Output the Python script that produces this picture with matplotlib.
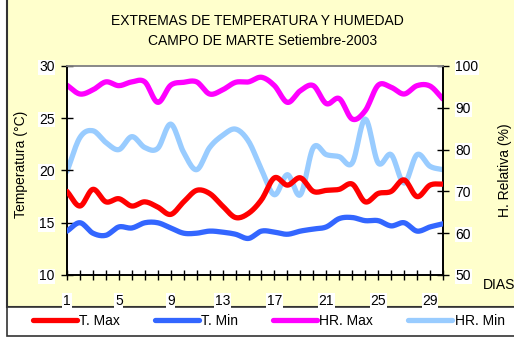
import numpy as np
import matplotlib
matplotlib.use('Agg')
import matplotlib.pyplot as plt
from matplotlib.patches import Rectangle
from matplotlib.lines import Line2D

plt.rcParams['font.family'] = ['Liberation Sans', 'DejaVu Sans']

# daily readings, Campo de Marte, September 2003
dias = list(range(1, 31))
t_max = [18.0, 16.6, 18.2, 17.0, 17.3, 16.6, 17.0, 16.5, 15.8, 17.0,
         18.1, 17.8, 16.6, 15.5, 15.9, 17.2, 19.3, 18.6, 19.3, 18.0,
         18.1, 18.2, 18.7, 17.0, 17.8, 18.0, 19.1, 17.5, 18.6, 18.7]
t_min = [14.2, 15.0, 14.0, 13.8, 14.6, 14.5, 15.0, 15.0, 14.5, 14.0,
         14.0, 14.2, 14.1, 13.9, 13.5, 14.2, 14.1, 13.9, 14.2, 14.4,
         14.6, 15.4, 15.5, 15.2, 15.2, 14.7, 15.0, 14.2, 14.6, 14.9]
hr_max = [95.4, 93.3, 94.3, 96.2, 95.3, 96.2, 96.2, 91.3, 95.4, 96.1,
          96.2, 93.3, 94.3, 96.1, 96.2, 97.3, 95.3, 91.3, 94.1, 95.3,
          91.0, 92.2, 87.3, 89.3, 95.4, 94.9, 93.3, 95.3, 95.2, 92.1]
hr_min = [74.8, 82.9, 84.5, 81.7, 80.0, 83.1, 80.5, 80.3, 86.1, 79.3,
          75.2, 80.5, 83.4, 84.9, 82.0, 75.2, 69.2, 74.0, 69.2, 80.5,
          78.8, 78.3, 76.8, 87.3, 76.8, 78.8, 72.0, 78.8, 76.0, 75.2]
x_labels = [1, 5, 9, 13, 17, 21, 25, 29]

ROJO = '#FF0000'
AZUL = '#3366FF'
MAGENTA = '#FF00FF'
CELESTE = '#99CCFF'
AMARILLO = '#FFFFCC'
FS = 10


def suavizar(x, y, n=12):
  # Catmull-Rom curve through the points, like a spreadsheet smoothed line
  x = np.asarray(x, float)
  y = np.asarray(y, float)
  px = np.concatenate([[2 * x[0] - x[1]], x, [2 * x[-1] - x[-2]]])
  py = np.concatenate([[2 * y[0] - y[1]], y, [2 * y[-1] - y[-2]]])
  xs, ys = [], []
  t = np.linspace(0, 1, n, endpoint=False)
  for i in range(1, len(px) - 2):
    for p, out in ((px, xs), (py, ys)):
      p0, p1, p2, p3 = p[i - 1], p[i], p[i + 1], p[i + 2]
      out.extend(0.5 * (2 * p1 + (-p0 + p2) * t
                        + (2 * p0 - 5 * p1 + 4 * p2 - p3) * t ** 2
                        + (-p0 + 3 * p1 - 3 * p2 + p3) * t ** 3))
  xs.append(x[-1])
  ys.append(y[-1])
  return np.array(xs), np.array(ys)


fig = plt.figure(figsize=(5.14, 3.38), dpi=100, facecolor='white')

# chart background and legend strip
fig.patches.append(Rectangle((7 / 514, 31 / 338), 1, 1, transform=fig.transFigure,
                             facecolor=AMARILLO, edgecolor='#333333', lw=1.5, zorder=-2))
fig.patches.append(Rectangle((7 / 514, 2 / 338), 1, 29 / 338, transform=fig.transFigure,
                             facecolor='white', edgecolor='#333333', lw=1.2, zorder=-1))

ax = fig.add_axes([67 / 514, 63 / 338, 376 / 514, 209 / 338])
ax2 = ax.twinx()

lw = 3.8
ax.plot(*suavizar(dias, t_max), color=ROJO, lw=lw, solid_capstyle='round', zorder=3)
ax.plot(*suavizar(dias, t_min), color=AZUL, lw=lw, solid_capstyle='round', zorder=3)
ax2.plot(*suavizar(dias, hr_max), color=MAGENTA, lw=lw, solid_capstyle='round')
ax2.plot(*suavizar(dias, hr_min), color=CELESTE, lw=lw, solid_capstyle='round')
ax.set_zorder(ax2.get_zorder() + 1)
ax.patch.set_visible(False)
ax2.patch.set_visible(True)
ax2.patch.set_facecolor('white')

ax.set_xlim(1, 30)
ax.set_ylim(10, 30)
ax2.set_ylim(50, 100)
ax.set_yticks([10, 15, 20, 25, 30])
ax2.set_yticks([50, 60, 70, 80, 90, 100])
ax.set_xticks(x_labels)
ax.set_xticks(dias, minor=True)

lbl_box = dict(facecolor='white', edgecolor='none', pad=0.5)
ax.tick_params(axis='x', which='both', direction='inout', length=7, width=1, pad=10, labelsize=FS)
ax.tick_params(axis='y', direction='inout', length=8, width=1, pad=5, labelsize=FS)
ax2.tick_params(axis='y', direction='inout', length=8, width=1, pad=5, labelsize=FS)
for t in ax.get_xticklabels() + ax.get_yticklabels() + ax2.get_yticklabels():
  t.set_bbox(lbl_box)

for a in (ax, ax2):
  a.spines['top'].set_color('#888888')
  a.spines['top'].set_linewidth(1.2)
  for s in ('left', 'right', 'bottom'):
    a.spines[s].set_linewidth(1.2)

ax.set_ylabel('Temperatura (°C)', fontsize=FS, labelpad=8, y=0.53)
ax2.set_ylabel('H. Relativa (%)', fontsize=FS, labelpad=14)
fig.text(483 / 514, 1 - 285 / 338, 'DIAS', fontsize=FS, va='center', ha='left')

fig.text(257 / 514, 1 - 21 / 338, 'EXTREMAS DE TEMPERATURA Y HUMEDAD',
         fontsize=FS, ha='center', va='center')
fig.text(263 / 514, 1 - 41 / 338, 'CAMPO DE MARTE Setiembre-2003',
         fontsize=FS, ha='center', va='center')

handles = [Line2D([], [], color=c, lw=lw, solid_capstyle='round')
           for c in (ROJO, AZUL, MAGENTA, CELESTE)]
fig.legend(handles, ['T. Max', 'T. Min', 'HR. Max', 'HR. Min'], ncol=4,
           loc='center left', bbox_to_anchor=(20 / 514, 17 / 338), frameon=False,
           fontsize=FS, handlelength=3.2, handletextpad=0.15, columnspacing=2.5)

fig.savefig('out.png', dpi=100, facecolor=fig.get_facecolor())
